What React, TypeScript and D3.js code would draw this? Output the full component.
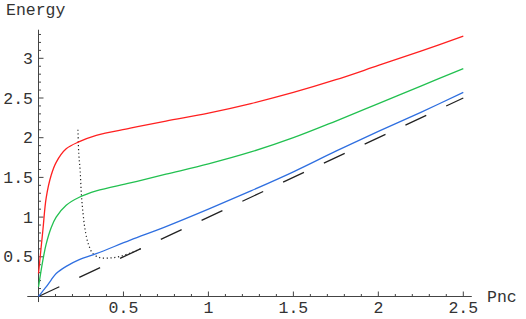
import React from "react";
import * as d3 from "d3";

const pX = [0, 0.026, 0.045, 0.075, 0.104, 0.163, 0.24, 0.34, 0.54, 0.75, 1.0, 1.25, 1.5, 1.75, 2.0, 2.25, 2.5];
const redE = [0.29, 0.84, 1.24, 1.53, 1.69, 1.86, 1.95, 2.03, 2.12, 2.21, 2.31, 2.43, 2.57, 2.73, 2.91, 3.09, 3.28];
const greenE = [0.12, 0.46, 0.66, 0.87, 1.0, 1.15, 1.25, 1.33, 1.43, 1.54, 1.67, 1.82, 2.0, 2.21, 2.43, 2.65, 2.87];
const blueE = [0, 0.07, 0.12, 0.21, 0.29, 0.38, 0.465, 0.54, 0.71, 0.88, 1.1, 1.33, 1.57, 1.83, 2.08, 2.32, 2.57];
const diagX = [0, 2.5];
const diagE = [0, 2.5];
const dotX = [0.232, 0.237, 0.245, 0.252, 0.262, 0.275, 0.295, 0.32, 0.36, 0.42, 0.48, 0.55, 0.6];
const dotE = [2.1, 1.8, 1.59, 1.3, 1.05, 0.83, 0.65, 0.54, 0.49, 0.485, 0.505, 0.555, 0.6];
const xTicks = [0.5, 1, 1.5, 2, 2.5];
const xTickLabels = ["0.5", "1", "1.5", "2", "2.5"];
const yTicks = [0.5, 1, 1.5, 2, 2.5, 3];
const yTickLabels = ["0.5", "1", "1.5", "2", "2.5", "3"];

const W = 526, H = 319;
const FONT = '"Liberation Mono", "DejaVu Sans Mono", "Courier New", monospace';
const textStyle: React.CSSProperties = { fontFamily: FONT, fontSize: "16.5px" };

export default function App() {
  const x = d3.scaleLinear().domain([0, 2.5]).range([38.5, 463.3]);
  const y = d3.scaleLinear().domain([0, 3]).range([296.5, 58.3]);
  const line = (xs: number[], ys: number[], curve: any) =>
    d3.line<number>().x((_, i) => x(xs[i])).y((_, i) => y(ys[i])).curve(curve)(xs.map((_, i) => i)) || "";

  const xMinor = d3.range(1, 26).map((i) => i / 10).filter((v) => Math.abs(v * 2 - Math.round(v * 2)) > 1e-6);
  const yMinor = d3.range(1, 34).map((i) => i / 10).filter((v) => Math.abs(v * 2 - Math.round(v * 2)) > 1e-6);
  const axisColor = "#444";
  const smooth = d3.curveCatmullRom.alpha(0.5);

  return (
    <div style={{ position: "fixed", left: 0, top: 0 }}>
      <svg width={W} height={H} style={{ display: "block", background: "#fff" }}>
        {/* axes */}
        <line x1={x(-0.066)} x2={x(2.55)} y1={y(0)} y2={y(0)} stroke={axisColor} strokeWidth={1} />
        <line x1={x(0)} x2={x(0)} y1={y(-0.07)} y2={y(3.36)} stroke={axisColor} strokeWidth={1} />
        {xTicks.map((t) => (
          <line key={"xt" + t} x1={x(t)} x2={x(t)} y1={y(0)} y2={y(0) - 5} stroke={axisColor} />
        ))}
        {xMinor.map((t) => (
          <line key={"xm" + t} x1={x(t)} x2={x(t)} y1={y(0)} y2={y(0) - 2.5} stroke={axisColor} />
        ))}
        {yTicks.map((t) => (
          <line key={"yt" + t} x1={x(0)} x2={x(0) + 5} y1={y(t)} y2={y(t)} stroke={axisColor} />
        ))}
        {yMinor.map((t) => (
          <line key={"ym" + t} x1={x(0)} x2={x(0) + 2.5} y1={y(t)} y2={y(t)} stroke={axisColor} />
        ))}
        {xTicks.map((t, i) => (
          <text key={"xl" + t} x={x(t)} y={313} textAnchor="middle" style={textStyle} fill="#333">
            {xTickLabels[i]}
          </text>
        ))}
        {yTicks.map((t, i) => (
          <text key={"yl" + t} x={33} y={y(t) + 5.5} textAnchor="end" style={textStyle} fill="#333">
            {yTickLabels[i]}
          </text>
        ))}
        <text x={6} y={15} style={textStyle} fill="#333">Energy</text>
        <text x={487} y={302} style={textStyle} fill="#333">Pnc</text>

        {/* curves */}
        <path d={line(diagX, diagE, d3.curveLinear)} fill="none" stroke="#222" strokeWidth={1.3} strokeDasharray="23,22" />
        <path d={line(dotX, dotE, smooth)} fill="none" stroke="#222" strokeWidth={1.2} strokeDasharray="1.2,2.6" />
        <path d={line(pX, blueE, smooth)} fill="none" stroke="#2f6fe0" strokeWidth={1.3} />
        <path d={line(pX, greenE, smooth)} fill="none" stroke="#22c050" strokeWidth={1.3} />
        <path d={line(pX, redE, smooth)} fill="none" stroke="#ff2020" strokeWidth={1.3} />
      </svg>
    </div>
  );
}
